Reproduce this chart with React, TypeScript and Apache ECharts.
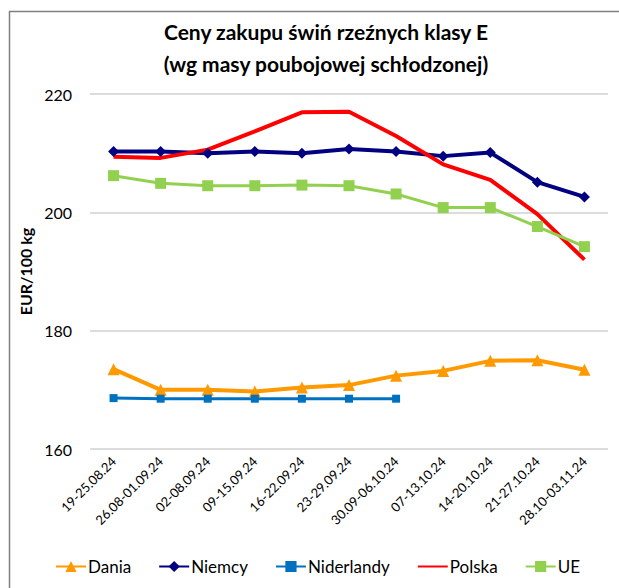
import React, { useEffect, useRef } from "react";
import * as echarts from "echarts";

const categories = [
  "19-25.08.24",
  "26.08-01.09.24",
  "02-08.09.24",
  "09-15.09.24",
  "16-22.09.24",
  "23-29.09.24",
  "30.09-06.10.24",
  "07-13.10.24",
  "14-20.10.24",
  "21-27.10.24",
  "28.10-03.11.24",
];

const dania = [173.5, 170.0, 170.0, 169.7, 170.4, 170.8, 172.4, 173.2, 174.9, 175.0, 173.4];
const niemcy = [210.3, 210.3, 210.0, 210.3, 210.0, 210.7, 210.3, 209.5, 210.1, 205.1, 202.6];
const niderlandy = [168.6, 168.5, 168.5, 168.5, 168.5, 168.5, 168.5, null, null, null, null];
const polska = [209.4, 209.2, 210.6, 213.7, 216.9, 217.0, 212.9, 208.1, 205.5, 199.7, 192.0];
const ue = [206.2, 204.9, 204.5, 204.5, 204.6, 204.5, 203.1, 200.8, 200.8, 197.6, 194.2];

const yTicks = { min: 160, max: 220, interval: 20 };

const FONT = "Lato, 'Open Sans', sans-serif";

export default function App() {
  const ref = useRef<HTMLDivElement>(null);
  useEffect(() => {
    if (!ref.current) return;
    const chart = echarts.init(ref.current, null, { renderer: "svg" });
    chart.setOption({
      animation: false,
      backgroundColor: "#ffffff",
      textStyle: { fontFamily: FONT },
      title: {
        text: "Ceny zakupu świń rzeźnych klasy E\n(wg masy poubojowej schłodzonej)",
        left: 321,
        top: 10,
        textAlign: "center",
        textStyle: {
          fontFamily: FONT,
          fontSize: 21,
          fontWeight: "bold",
          color: "#000000",
          lineHeight: 32,
        },
      },
      graphic: [
        {
          type: "rect",
          shape: { x: 9.5, y: 11.5, width: 800, height: 800 },
          style: { fill: "none", stroke: "#808080", lineWidth: 1.5 },
          silent: true,
        },
      ],
      legend: {
        bottom: 8,
        left: 50,
        itemGap: 27,
        itemWidth: 30,
        itemHeight: 14,
        textStyle: { fontFamily: FONT, fontSize: 17, color: "#000000", padding: [0, 0, 0, -3] },
        data: [
          { name: "Dania" },
          { name: "Niemcy" },
          { name: "Niderlandy" },
          { name: "Polska", itemStyle: { opacity: 0 } },
          { name: "UE" },
        ],
      },
      grid: { left: 90, right: 11, top: 94, bottom: 139, containLabel: false },
      xAxis: {
        type: "category",
        data: categories,
        boundaryGap: true,
        axisLine: { show: false },
        axisTick: { show: false },
        axisLabel: {
          rotate: 45,
          fontFamily: FONT,
          fontSize: 13,
          color: "#000000",
          margin: 10,
          interval: 0,
        },
      },
      yAxis: {
        type: "value",
        min: yTicks.min,
        max: yTicks.max,
        interval: yTicks.interval,
        name: "EUR/100 kg",
        nameLocation: "middle",
        nameGap: 55,
        nameTextStyle: { fontFamily: FONT, fontSize: 16, fontWeight: "bold", color: "#000000" },
        axisLine: { show: false },
        axisTick: { show: false },
        axisLabel: { fontFamily: FONT, fontSize: 16, color: "#000000", margin: 18 },
        splitLine: { lineStyle: { color: "#d0d0d0", width: 1.5 } },
      },
      series: [
        {
          name: "Dania",
          type: "line",
          data: dania,
          color: "#FF9900",
          symbol: "triangle",
          symbolSize: 12,
          lineStyle: { width: 4, color: "#FF9900" },
          itemStyle: { color: "#FF9900" },
        },
        {
          name: "Niemcy",
          type: "line",
          data: niemcy,
          color: "#000080",
          symbol: "diamond",
          symbolSize: 11,
          lineStyle: { width: 4, color: "#000080" },
          itemStyle: { color: "#000080" },
        },
        {
          name: "Niderlandy",
          type: "line",
          data: niderlandy,
          color: "#0070C0",
          symbol: "rect",
          symbolSize: 8,
          lineStyle: { width: 3, color: "#0070C0" },
          itemStyle: { color: "#0070C0" },
        },
        {
          name: "Polska",
          type: "line",
          data: polska,
          color: "#FF0000",
          symbol: "none",
          lineStyle: { width: 4, color: "#FF0000" },
          itemStyle: { color: "#FF0000" },
        },
        {
          name: "UE",
          type: "line",
          data: ue,
          color: "#92D050",
          symbol: "rect",
          symbolSize: 11,
          lineStyle: { width: 3, color: "#92D050" },
          itemStyle: { color: "#92D050" },
        },
      ],
    });
    return () => chart.dispose();
  }, []);
  return (
    <div
      ref={ref}
      style={{ position: "absolute", left: 0, top: 0, width: 619, height: 588 }}
    />
  );
}
